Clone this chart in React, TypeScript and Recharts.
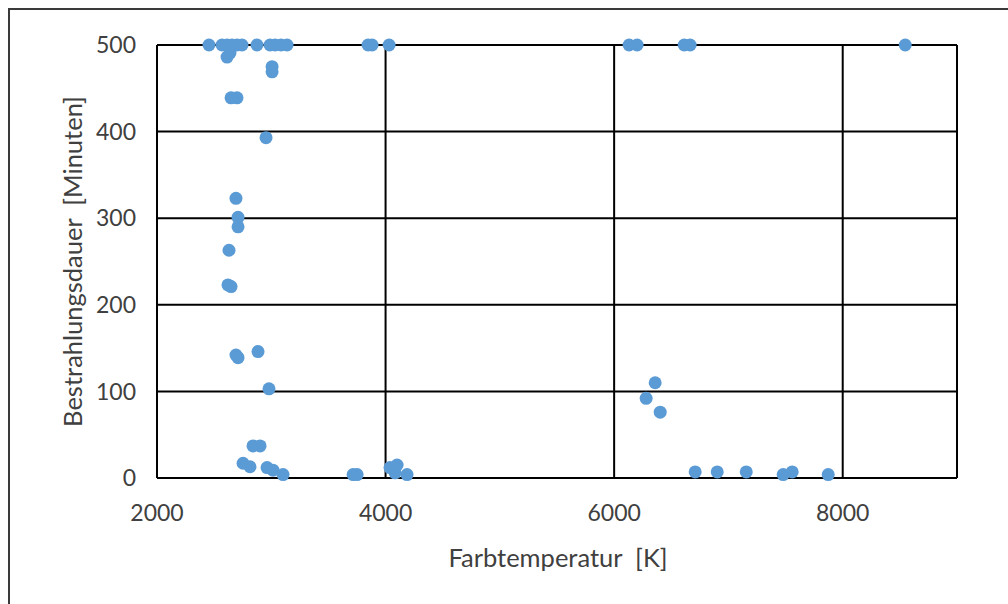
import React from 'react';
import { ScatterChart, Scatter, XAxis, YAxis, CartesianGrid } from 'recharts';

const temperatureK = [
  2455, 2569, 2613, 2656, 2700, 2744, 2875, 2989, 3033, 3085, 3138, 3847, 3882, 4031, 6131, 6201, 6613, 6665, 8547,
  2613, 2639, 3007, 3007, 2648, 2700, 2954, 2691, 2709, 2709, 2630, 2621, 2648, 2691, 2709, 2884, 2980,
  2840, 2902, 2753, 2814, 2963, 3015, 3103, 3716, 3751, 4039, 4101, 4083, 4188,
  6359, 6280, 6403, 6709, 6902, 7156, 7479, 7558, 7873,
];
const durationMin = [
  500, 500, 500, 500, 500, 500, 500, 500, 500, 500, 500, 500, 500, 500, 500, 500, 500, 500, 500,
  486, 491, 475, 469, 439, 439, 393, 323, 301, 290, 263, 223, 221, 142, 139, 146, 103,
  37, 37, 17, 13, 12, 9, 4, 4, 4, 12, 15, 6, 4,
  110, 92, 76, 7, 7, 7, 4, 7, 4,
];
const xTicks = [2000, 4000, 6000, 8000];
const yTicks = [0, 100, 200, 300, 400, 500];
const xTitle = 'Farbtemperatur  [K]';
const yTitle = 'Bestrahlungsdauer  [Minuten]';

const points = temperatureK.map((t, i) => ({ t, d: durationMin[i] }));

const FONT = 'Lato, "Noto Sans", sans-serif';
const TEXT = '#404040';
const FS = 23;
const TFS = 25.5;

const Dot = (p: any) => <circle cx={p.cx} cy={p.cy} r={6.5} fill="#5B9BD5" />;

const XTitle = (props: any) => {
  const vb = props.viewBox || {};
  return (
    <text
      x={vb.x + vb.width / 2 + 1}
      y={557}
      textAnchor="middle"
      dominantBaseline="central"
      fill={TEXT}
      fontSize={TFS}
      fontFamily={FONT}
      style={{ whiteSpace: 'pre' }}
    >
      {xTitle}
    </text>
  );
};

const YTitle = (props: any) => {
  const vb = props.viewBox || {};
  const cy = vb.y + vb.height / 2;
  return (
    <text
      x={72}
      y={cy}
      transform={`rotate(-90, 72, ${cy})`}
      textAnchor="middle"
      dominantBaseline="central"
      fill={TEXT}
      fontSize={TFS}
      fontFamily={FONT}
      style={{ whiteSpace: 'pre' }}
    >
      {yTitle}
    </text>
  );
};

export default function App() {
  return (
    <div style={{ position: 'fixed', left: 0, top: 0, width: 1008, height: 604, overflow: 'hidden', background: '#fff' }}>
      <div style={{ position: 'absolute', left: 8, top: 8, width: 1200, height: 800, border: '2px solid #3a3a3a' }} />
      <div style={{ position: 'absolute', left: 0, top: 0 }}>
        <ScatterChart width={1008} height={604} margin={{ top: 45, right: 51, bottom: 66, left: 57 }}>
          <CartesianGrid stroke="#000" strokeWidth={2} />
          <XAxis
            type="number"
            dataKey="t"
            domain={[2000, 9000]}
            ticks={xTicks}
            height={60}
            tickLine={false}
            tickSize={0}
            tickMargin={27}
            axisLine={{ stroke: '#000', strokeWidth: 2 }}
            tick={{ fill: TEXT, fontSize: FS, fontFamily: FONT }}
            label={XTitle}
          />
          <YAxis
            type="number"
            dataKey="d"
            domain={[0, 500]}
            ticks={yTicks}
            width={100}
            tickLine={false}
            tickSize={0}
            tickMargin={21}
            axisLine={{ stroke: '#000', strokeWidth: 2 }}
            tick={{ fill: TEXT, fontSize: FS, fontFamily: FONT }}
            label={YTitle}
          />
          <Scatter data={points} isAnimationActive={false} shape={Dot} />
        </ScatterChart>
      </div>
    </div>
  );
}
